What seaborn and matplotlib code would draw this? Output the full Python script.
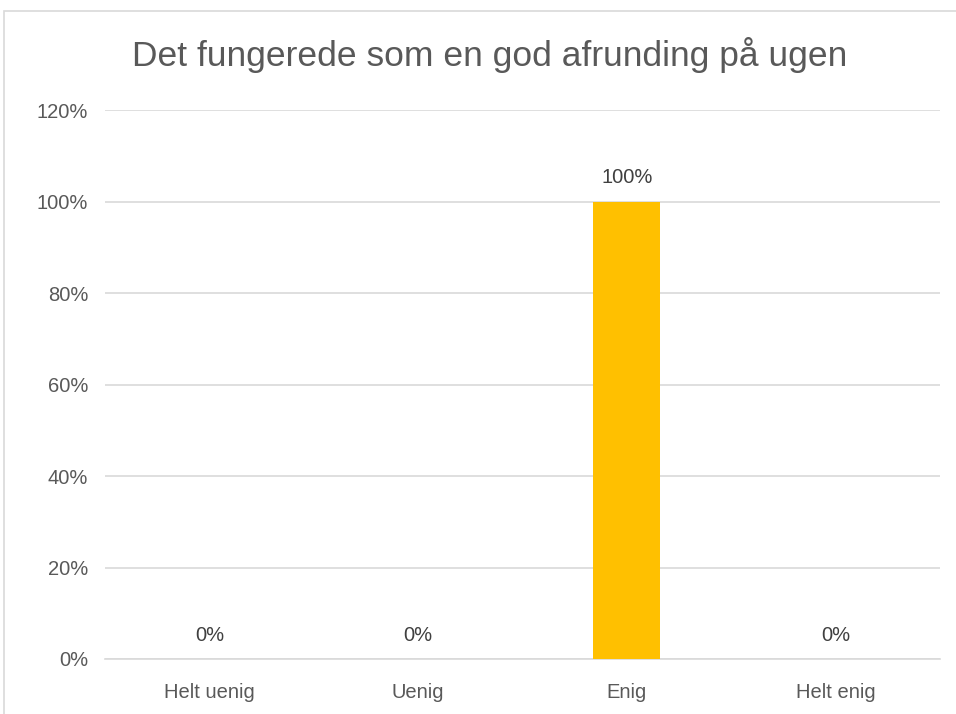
import matplotlib
matplotlib.use("Agg")
import matplotlib.pyplot as plt
import seaborn as sns
import pandas as pd
from matplotlib.patches import Rectangle

categories = ["Helt uenig", "Uenig", "Enig", "Helt enig"]
values = [0.0, 0.0, 1.0, 0.0]
yticks = [0, 0.2, 0.4, 0.6, 0.8, 1.0, 1.2]
title = "Det fungerede som en god afrunding på ugen"

sns.set_theme(style="white")
plt.rcParams['font.family'] = ['Liberation Sans', 'DejaVu Sans']
txt = "#595959"

fig = plt.figure(figsize=(9.56, 7.14), dpi=100)
ax = fig.add_axes([105/956, 1-659/714, (940-105)/956, (659-110)/714])

df = pd.DataFrame({"cat": categories, "val": values})
sns.barplot(data=df, x="cat", y="val", color="#FFC000", width=0.32, saturation=1,
            linewidth=0, ax=ax, zorder=3)

ax.set_xlim(-0.5, 3.5)
ax.set_ylim(0, 1.2)
ax.set_yticks(yticks)
ax.set_yticklabels([f"{int(round(t*100))}%" for t in yticks], fontsize=14.5, color=txt)
ax.set_xticklabels(categories, fontsize=14.5, color=txt)
ax.set_xlabel("")
ax.set_ylabel("")
ax.tick_params(axis='both', length=0)
ax.tick_params(axis='y', pad=12)
ax.tick_params(axis='x', pad=17)
ax.grid(axis='y', color="#D9D9D9", linewidth=1.2, zorder=0)
ax.set_axisbelow(True)
for s in ["top", "right", "left"]:
    ax.spines[s].set_visible(False)
ax.spines["bottom"].set_color("#D9D9D9")
ax.spines["bottom"].set_linewidth(1.2)

for i, v in enumerate(values):
    ax.annotate(f"{int(round(v*100))}%", (i, v), xytext=(0, 17), textcoords="offset points",
                ha="center", va="center", fontsize=14.5, color="#404040")

fig.text(490/956, 1-55/714, title, ha="center", va="center", fontsize=25.5, color=txt)

fig.patches.append(Rectangle((4/956, -0.1), 1.2, 1.1 - 11/714, transform=fig.transFigure,
                             fill=False, edgecolor="#D9D9D9", linewidth=1.2))

fig.savefig("out.png", dpi=100)
